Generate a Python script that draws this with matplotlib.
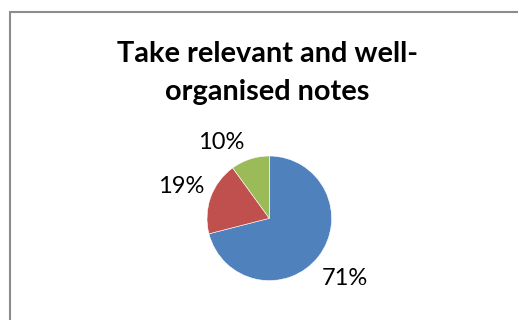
import matplotlib
matplotlib.use("Agg")
import matplotlib.pyplot as plt
from matplotlib.lines import Line2D

# Survey result shares
categories = ["Yes", "Partly", "No"]
values = [71, 19, 10]
labels = ["71%", "19%", "10%"]
colors = ["#4F81BD", "#C0504D", "#9BBB59"]
title_lines = ["Take relevant and well-", "organised notes"]

W, H, DPI = 518, 320, 100
fig = plt.figure(figsize=(W / DPI, H / DPI), dpi=DPI)
fig.patch.set_facecolor("white")

# chart frame (top and left edges visible)
frame_color = "#8c8c8c"
fig.add_artist(Line2D([10 / W, 10 / W], [0, 1 - 11.5 / H], transform=fig.transFigure,
                      color=frame_color, lw=1.5, solid_capstyle="butt"))
fig.add_artist(Line2D([9.3 / W, 1], [1 - 11.5 / H, 1 - 11.5 / H], transform=fig.transFigure,
                      color=frame_color, lw=1.5, solid_capstyle="butt"))

# title
fig.text(267.5 / W, 1 - 61.5 / H, title_lines[0], ha="center", va="baseline",
         fontsize=20.8, fontweight="bold", family="Lato", color="black")
fig.text(267.5 / W, 1 - 100 / H, title_lines[1], ha="center", va="baseline",
         fontsize=20.8, fontweight="bold", family="Lato", color="black")

# pie axes: centre at (269.3, 218.3) px, radius 62.3 px, axes spans +-2 radii
cx, cy, r = 269.3, 218.3, 62.3
half = 2 * r
ax = fig.add_axes([(cx - half) / W, (H - cy - half) / H, 2 * half / W, 2 * half / H])

wedges, _ = ax.pie(values, colors=colors, startangle=90, counterclock=False,
                   radius=1, wedgeprops=dict(linewidth=0.4, edgecolor="white"))
ax.set_xlim(-2, 2)
ax.set_ylim(-2, 2)
ax.set_aspect("equal")
ax.axis("off")

# data labels, placed outside their slices
label_pos = [(1.22, -0.96), (-1.41, 0.51), (-0.77, 1.22)]
for lab, (x, y) in zip(labels, label_pos):
    ax.text(x, y, lab, ha="center", va="center", fontsize=17, family="Lato", color="black")

fig.savefig("out.png", dpi=DPI, facecolor="white")
